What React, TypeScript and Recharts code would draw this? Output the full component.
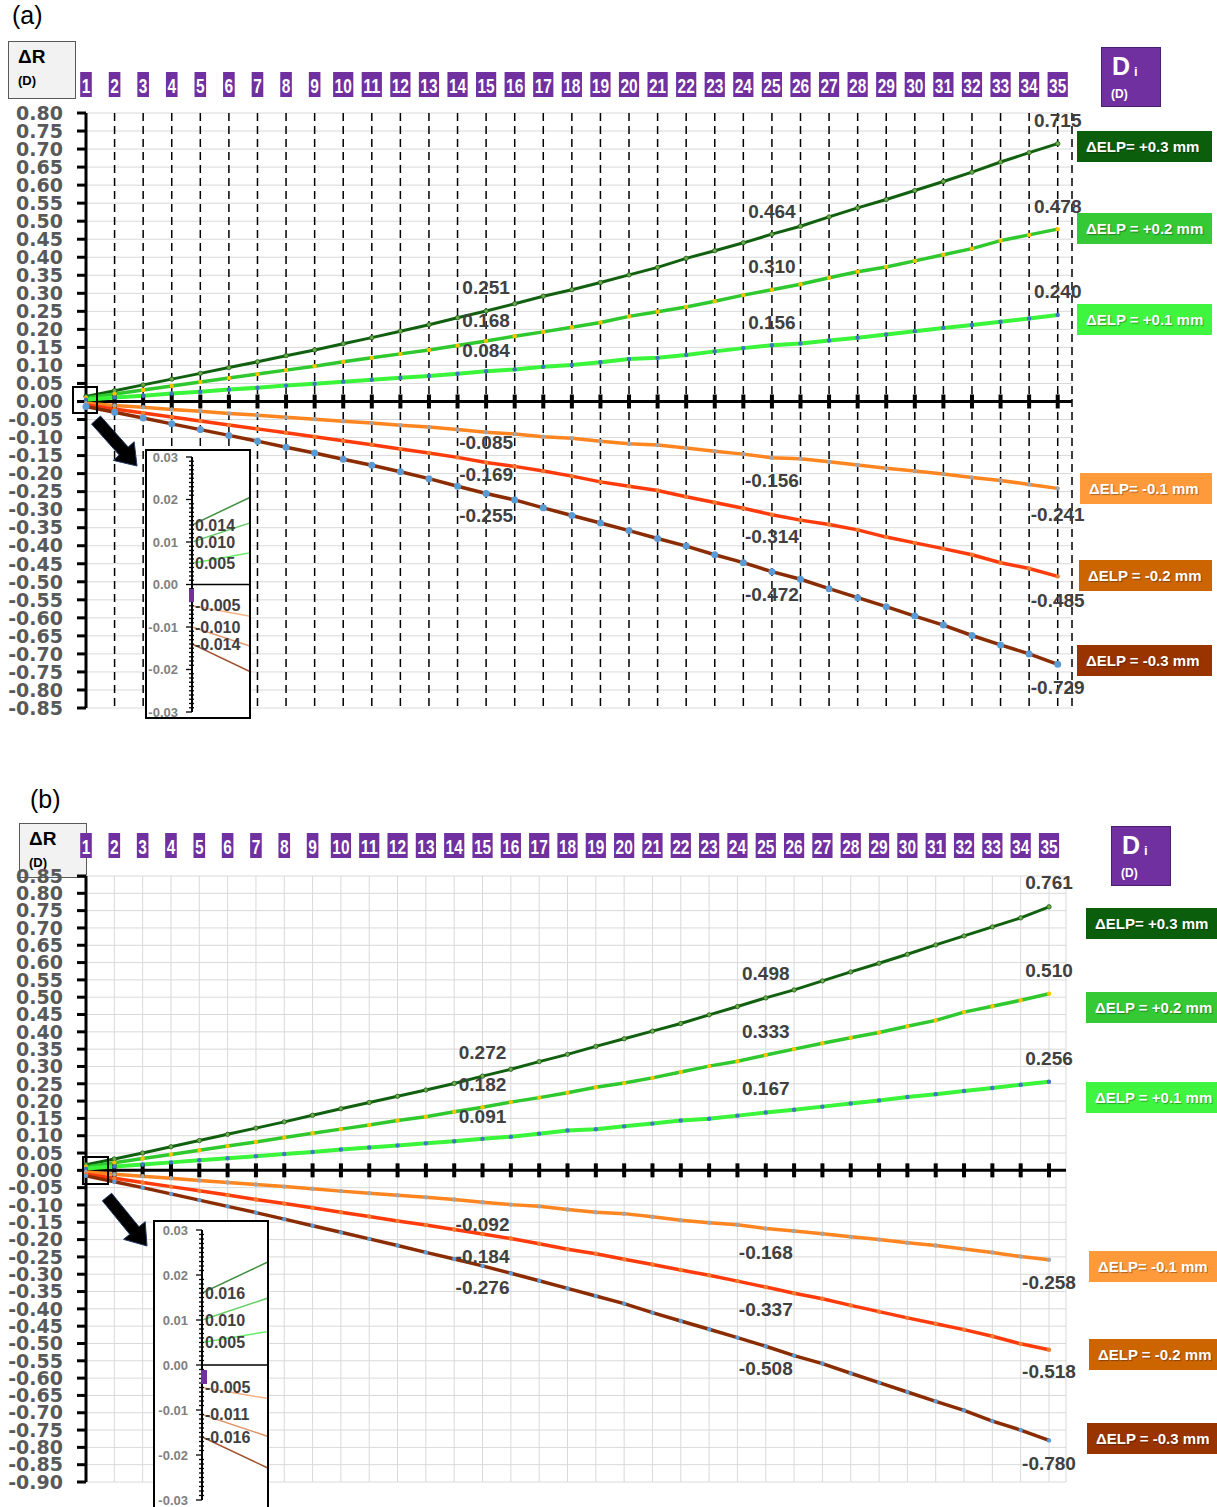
import React from "react";
import { LineChart, Line, XAxis, YAxis, CartesianGrid, ReferenceLine, LabelList } from "recharts";

// IOL power index shown in the purple boxes along the top
const diValues = [1, 2, 3, 4, 5, 6, 7, 8, 9, 10, 11, 12, 13, 14, 15, 16, 17, 18, 19, 20, 21, 22, 23, 24, 25, 26, 27, 28, 29, 30, 31, 32, 33, 34, 35];

// panel (a) ΔR values (D)
const plus03A = [0.014, 0.030, 0.046, 0.062, 0.078, 0.094, 0.110, 0.127, 0.143, 0.160, 0.177, 0.195, 0.213, 0.232, 0.251, 0.271, 0.292, 0.310, 0.330, 0.351, 0.372, 0.397, 0.418, 0.440, 0.464, 0.486, 0.512, 0.537, 0.560, 0.585, 0.610, 0.636, 0.664, 0.690, 0.715];
const plus02A = [0.010, 0.021, 0.032, 0.043, 0.054, 0.065, 0.076, 0.087, 0.098, 0.110, 0.121, 0.132, 0.143, 0.155, 0.168, 0.181, 0.193, 0.206, 0.219, 0.236, 0.249, 0.262, 0.278, 0.295, 0.310, 0.325, 0.343, 0.360, 0.373, 0.390, 0.407, 0.424, 0.446, 0.462, 0.478];
const plus01A = [0.005, 0.011, 0.016, 0.022, 0.027, 0.033, 0.038, 0.044, 0.049, 0.055, 0.060, 0.066, 0.071, 0.077, 0.084, 0.089, 0.096, 0.101, 0.109, 0.118, 0.121, 0.129, 0.139, 0.148, 0.156, 0.161, 0.169, 0.177, 0.186, 0.195, 0.204, 0.212, 0.221, 0.230, 0.240];
const minus01A = [-0.005, -0.011, -0.016, -0.022, -0.027, -0.033, -0.038, -0.044, -0.049, -0.055, -0.060, -0.066, -0.071, -0.078, -0.085, -0.090, -0.098, -0.102, -0.110, -0.117, -0.121, -0.129, -0.138, -0.146, -0.156, -0.159, -0.167, -0.176, -0.185, -0.193, -0.201, -0.211, -0.219, -0.230, -0.241];
const minus02A = [-0.010, -0.021, -0.032, -0.043, -0.054, -0.065, -0.076, -0.087, -0.098, -0.109, -0.120, -0.132, -0.143, -0.155, -0.169, -0.180, -0.193, -0.207, -0.223, -0.235, -0.247, -0.264, -0.280, -0.296, -0.314, -0.329, -0.341, -0.356, -0.376, -0.392, -0.408, -0.425, -0.447, -0.463, -0.485];
const minus03A = [-0.014, -0.030, -0.046, -0.062, -0.078, -0.094, -0.110, -0.127, -0.143, -0.160, -0.177, -0.195, -0.214, -0.235, -0.255, -0.273, -0.295, -0.316, -0.337, -0.358, -0.380, -0.401, -0.425, -0.447, -0.472, -0.493, -0.519, -0.544, -0.569, -0.595, -0.620, -0.649, -0.675, -0.700, -0.729];

// panel (b) ΔR values (D)
const plus03B = [0.016, 0.033, 0.050, 0.068, 0.086, 0.104, 0.122, 0.140, 0.159, 0.178, 0.196, 0.214, 0.232, 0.251, 0.272, 0.292, 0.314, 0.335, 0.358, 0.380, 0.402, 0.424, 0.449, 0.473, 0.498, 0.521, 0.547, 0.573, 0.598, 0.624, 0.651, 0.677, 0.703, 0.729, 0.761];
const plus02B = [0.010, 0.022, 0.034, 0.046, 0.058, 0.070, 0.082, 0.095, 0.107, 0.119, 0.131, 0.144, 0.155, 0.169, 0.182, 0.197, 0.210, 0.224, 0.240, 0.252, 0.267, 0.284, 0.301, 0.315, 0.333, 0.350, 0.367, 0.383, 0.398, 0.416, 0.433, 0.457, 0.474, 0.491, 0.510];
const plus01B = [0.005, 0.011, 0.017, 0.023, 0.029, 0.035, 0.041, 0.047, 0.053, 0.060, 0.066, 0.072, 0.078, 0.084, 0.091, 0.097, 0.106, 0.115, 0.119, 0.127, 0.135, 0.144, 0.149, 0.158, 0.167, 0.175, 0.184, 0.193, 0.202, 0.212, 0.220, 0.229, 0.238, 0.247, 0.256];
const minus01B = [-0.005, -0.011, -0.017, -0.023, -0.029, -0.035, -0.041, -0.047, -0.053, -0.060, -0.066, -0.072, -0.078, -0.084, -0.092, -0.099, -0.104, -0.113, -0.121, -0.125, -0.134, -0.144, -0.151, -0.157, -0.168, -0.175, -0.183, -0.192, -0.200, -0.209, -0.217, -0.227, -0.237, -0.249, -0.258];
const minus02B = [-0.011, -0.023, -0.035, -0.047, -0.059, -0.071, -0.084, -0.096, -0.108, -0.121, -0.133, -0.146, -0.158, -0.171, -0.184, -0.197, -0.212, -0.228, -0.241, -0.257, -0.272, -0.288, -0.303, -0.320, -0.337, -0.355, -0.371, -0.390, -0.408, -0.426, -0.443, -0.460, -0.479, -0.501, -0.518];
const minus03B = [-0.016, -0.033, -0.050, -0.068, -0.086, -0.104, -0.122, -0.141, -0.160, -0.179, -0.198, -0.217, -0.237, -0.256, -0.276, -0.297, -0.319, -0.341, -0.363, -0.385, -0.411, -0.435, -0.459, -0.483, -0.508, -0.535, -0.558, -0.586, -0.613, -0.640, -0.667, -0.693, -0.724, -0.750, -0.780];

const yTicksA = [0.8, 0.75, 0.7, 0.65, 0.6, 0.55, 0.5, 0.45, 0.4, 0.35, 0.3, 0.25, 0.2, 0.15, 0.1, 0.05, 0, -0.05, -0.1, -0.15, -0.2, -0.25, -0.3, -0.35, -0.4, -0.45, -0.5, -0.55, -0.6, -0.65, -0.7, -0.75, -0.8, -0.85];
const yTicksB = [0.85, 0.8, 0.75, 0.7, 0.65, 0.6, 0.55, 0.5, 0.45, 0.4, 0.35, 0.3, 0.25, 0.2, 0.15, 0.1, 0.05, 0, -0.05, -0.1, -0.15, -0.2, -0.25, -0.3, -0.35, -0.4, -0.45, -0.5, -0.55, -0.6, -0.65, -0.7, -0.75, -0.8, -0.85, -0.9];
const insetMajorTicks = [0.03, 0.02, 0.01, 0, -0.01, -0.02, -0.03];
const insetMinorTicks = Array.from({ length: 61 }, (_, i) => Math.round((0.03 - i * 0.001) * 1000) / 1000);

const legendTexts = ["ΔELP= +0.3 mm", "ΔELP = +0.2 mm", "ΔELP = +0.1 mm", "ΔELP= -0.1 mm", "ΔELP = -0.2 mm", "ΔELP = -0.3 mm"];
const labelIndexes = [14, 24, 34];

const SANS = '"Liberation Sans", Arial, sans-serif';
const WIDE = '"DejaVu Sans", sans-serif';
const PURPLE = "#7030a0";

const seriesStyle = [
  { key: "p3", color: "#11600f", width: 3, dotFill: "#70ad47", dotStroke: "#1b5e20", inset: "#3f8f3f", legend: "#0b5e0b" },
  { key: "p2", color: "#2fc82f", width: 3.5, dotFill: "#ffc000", dotStroke: "none", inset: "#66cc66", legend: "#35c935" },
  { key: "p1", color: "#3af53a", width: 4, dotFill: "#4472c4", dotStroke: "none", inset: "#66ee66", legend: "#40f540" },
  { key: "m1", color: "#ff8520", width: 3.5, dotFill: "#a5a5a5", dotStroke: "none", inset: "#f4b183", legend: "#ff9a3a" },
  { key: "m2", color: "#ff3b0c", width: 3.5, dotFill: "#ed7d31", dotStroke: "none", inset: "#e0956a", legend: "#cc6400" },
  { key: "m3", color: "#8a2c00", width: 3.5, dotFill: "#5b9bd5", dotStroke: "none", inset: "#a0522d", legend: "#993300" },
];

const rowsA = diValues.map((di, i) => ({ di, p3: plus03A[i], p2: plus02A[i], p1: plus01A[i], m1: minus01A[i], m2: minus02A[i], m3: minus03A[i] }));
const rowsB = diValues.map((di, i) => ({ di, p3: plus03B[i], p2: plus02B[i], p1: plus01B[i], m1: minus01B[i], m2: minus02B[i], m3: minus03B[i] }));
const seriesA: Record<string, number[]> = { p3: plus03A, p2: plus02A, p1: plus01A, m1: minus01A, m2: minus02A, m3: minus03A };
const seriesB: Record<string, number[]> = { p3: plus03B, p2: plus02B, p1: plus01B, m1: minus01B, m2: minus02B, m3: minus03B };

const offsetsA: Record<string, number[]> = { p3: [23, 23, 23], p2: [20, 23, 23], p1: [21, 23, 23], m1: [10, 23, 26], m2: [12, 22, 24], m3: [22, 23, 23] };
const offsetsB: Record<string, number[]> = { p3: [24, 24, 24], p2: [23, 24, 23], p1: [22, 24, 23], m1: [22, 24, 23], m2: [22, 22, 22], m3: [22, 22, 23] };

function DiTick(props: any) {
  const { x, payload, boxTop } = props;
  const label = String(payload.value);
  const tw = label.length * 8.6;
  const w = tw + 3;
  return (
    <g>
      <rect x={x - w / 2} y={boxTop} width={w} height={25} fill={PURPLE} />
      <text
        x={x}
        y={boxTop + 13.5}
        fill="#fff"
        fontSize={20}
        fontWeight="bold"
        fontFamily={SANS}
        textAnchor="middle"
        dominantBaseline="central"
        textLength={tw}
        lengthAdjust="spacingAndGlyphs"
      >
        {label}
      </text>
    </g>
  );
}

const valueLabel = (values: number[], offsets: number[]) => (props: any) => {
  const idx = props.index ?? values.indexOf(props.value);
  const k = labelIndexes.indexOf(idx);
  if (k < 0) return null;
  const x = props.x ?? props.viewBox?.x;
  const y = props.y ?? props.viewBox?.y;
  const sign = props.value >= 0 ? -1 : 1;
  return (
    <text x={x} y={y + sign * offsets[k]} fill="#404040" fontSize={19} fontWeight="bold" fontFamily={SANS} textAnchor="middle" dominantBaseline="central">
      {Number(props.value).toFixed(3)}
    </text>
  );
};

const insetLabel = (values: number[]) => (props: any) => {
  const idx = props.index ?? values.indexOf(props.value);
  if (idx !== 0) return null;
  const x = props.x ?? props.viewBox?.x;
  const y = props.y ?? props.viewBox?.y;
  return (
    <text x={x + 3} y={y} fill="#404040" fontSize={16} fontWeight="bold" fontFamily={SANS} textAnchor="start" dominantBaseline="central">
      {Number(props.value).toFixed(3)}
    </text>
  );
};

type PanelProps = {
  rows: any[];
  series: Record<string, number[]>;
  offsets: Record<string, number[]>;
  top: number;
  height: number;
  plotTop: number;
  plotBottom: number;
  plotRight: number;
  xMax: number;
  yTicks: number[];
  boxTop: number;
  dashed: boolean;
  bigLastDot: boolean;
};

function Panel(p: PanelProps) {
  return (
    <div style={{ position: "absolute", left: 0, top: p.top }}>
      <LineChart width={1217} height={p.height} data={p.rows} margin={{ top: p.plotTop - 30, left: 6, right: 1217 - p.plotRight, bottom: p.height - p.plotBottom }}>
        {p.dashed ? (
          <>
            <CartesianGrid vertical={false} stroke="#d9d9d9" strokeWidth={1} />
            <CartesianGrid horizontal={false} stroke="#000" strokeWidth={1.5} strokeDasharray="8 5" />
          </>
        ) : (
          <CartesianGrid stroke="#d9d9d9" strokeWidth={1} />
        )}
        <XAxis
          type="number"
          dataKey="di"
          orientation="top"
          height={30}
          domain={[1, p.xMax]}
          ticks={diValues}
          interval={0}
          axisLine={false}
          tickLine={false}
          tick={(t: any) => <DiTick {...t} boxTop={p.boxTop} />}
        />
        <YAxis
          type="number"
          width={80}
          domain={[p.yTicks[p.yTicks.length - 1], p.yTicks[0]]}
          ticks={p.yTicks}
          interval={0}
          tickFormatter={(v: number) => v.toFixed(2)}
          axisLine={{ stroke: "#000", strokeWidth: 3 }}
          tickLine={{ stroke: "#000", strokeWidth: 3 }}
          tickSize={9}
          tickMargin={14}
          tick={{ fill: "#595959", fontSize: 19, fontWeight: "bold", fontFamily: WIDE }}
        />
        <ReferenceLine y={0} stroke="#000" strokeWidth={3} />
        <Line
          dataKey={() => 0}
          stroke="none"
          isAnimationActive={false}
          dot={(d: any) => <rect key={`z${d.index}`} x={d.cx - 2} y={d.cy - 7} width={4} height={14} fill="#000" />}
        />
        {seriesStyle.map((s) => (
          <Line
            key={s.key}
            type="linear"
            dataKey={s.key}
            stroke={s.color}
            strokeWidth={s.width}
            isAnimationActive={false}
            dot={{ r: s.key === "m3" && p.bigLastDot ? 3.5 : 2.2, fill: s.dotFill, stroke: s.dotStroke, strokeWidth: 0.8 }}
          >
            <LabelList dataKey={s.key} content={valueLabel(p.series[s.key], p.offsets[s.key])} />
          </Line>
        ))}
      </LineChart>
    </div>
  );
}

type InsetProps = { rows: any[]; series: Record<string, number[]>; left: number; top: number; width: number; height: number; axisX: number; y03: number; yNeg03: number };

function Inset(p: InsetProps) {
  const innerW = p.width - 4;
  const innerH = p.height - 4;
  const yAxisW = 40;
  const plotTop = p.y03 - (p.top + 2);
  const plotBottom = p.yNeg03 - (p.top + 2);
  return (
    <div style={{ position: "absolute", left: p.left, top: p.top, width: p.width, height: p.height, border: "2px solid #000", boxSizing: "border-box", background: "#fff" }}>
      <LineChart width={innerW} height={innerH} data={p.rows} margin={{ top: plotTop, bottom: innerH - plotBottom, left: p.axisX - (p.left + 2) - yAxisW, right: 0 }}>
        <XAxis type="number" dataKey="di" domain={[1, 1.4]} allowDataOverflow hide />
        <YAxis
          type="number"
          width={yAxisW}
          domain={[-0.03, 0.03]}
          allowDataOverflow
          ticks={insetMinorTicks}
          interval={0}
          axisLine={{ stroke: "#000", strokeWidth: 2 }}
          tickLine={false}
          tickSize={0}
          tickMargin={0}
          tick={(t: any) => {
            const v = Number(t.payload.value);
            const major = insetMajorTicks.some((m) => Math.abs(m - v) < 1e-6);
            return (
              <g>
                <line x1={t.x - (major ? 6 : 3)} x2={t.x + (major ? 0 : 2)} y1={t.y} y2={t.y} stroke="#000" strokeWidth={1.3} />
                {major && (
                  <text x={t.x - 14} y={t.y} fill="#7f7f7f" fontSize={13} fontWeight="bold" fontFamily={SANS} textAnchor="end" dominantBaseline="central">
                    {v.toFixed(2)}
                  </text>
                )}
              </g>
            );
          }}
        />
        <ReferenceLine y={0} stroke="#000" strokeWidth={1.5} />
        {seriesStyle.map((s) => (
          <Line key={s.key} type="linear" dataKey={s.key} stroke={s.inset} strokeWidth={1.5} dot={false} isAnimationActive={false}>
            <LabelList dataKey={s.key} content={insetLabel(p.series[s.key])} />
          </Line>
        ))}
      </LineChart>
    </div>
  );
}

function arrowPoints(x1: number, y1: number, x2: number, y2: number) {
  const dx = x2 - x1;
  const dy = y2 - y1;
  const L = Math.hypot(dx, dy);
  const ux = dx / L;
  const uy = dy / L;
  const px = -uy;
  const py = ux;
  const shaft = 6;
  const head = 14;
  const headLen = 20;
  const bx = x2 - ux * headLen;
  const by = y2 - uy * headLen;
  const pts = [
    [x1 + px * shaft, y1 + py * shaft],
    [bx + px * shaft, by + py * shaft],
    [bx + px * head, by + py * head],
    [x2, y2],
    [bx - px * head, by - py * head],
    [bx - px * shaft, by - py * shaft],
    [x1 - px * shaft, y1 - py * shaft],
  ];
  return pts.map((q) => q.join(",")).join(" ");
}

function DeltaRBox({ left, top, width, height }: { left: number; top: number; width: number; height: number }) {
  return (
    <div style={{ position: "absolute", left, top, width, height, background: "#f2f2f2", border: "1.5px solid #595959", boxSizing: "border-box", fontFamily: SANS, fontWeight: "bold", color: "#000" }}>
      <div style={{ position: "absolute", left: 9, top: 4, fontSize: 19 }}>ΔR</div>
      <div style={{ position: "absolute", left: 9, top: 31, fontSize: 13 }}>(D)</div>
    </div>
  );
}

function DiBox({ left, top }: { left: number; top: number }) {
  return (
    <div style={{ position: "absolute", left, top, width: 60, height: 60, background: PURPLE, border: "1px solid #4b1f6f", boxSizing: "border-box", fontFamily: SANS, fontWeight: "bold", color: "#fff" }}>
      <div style={{ position: "absolute", left: 10, top: 4, fontSize: 25 }}>D</div>
      <div style={{ position: "absolute", left: 32, top: 16, fontSize: 13 }}>i</div>
      <div style={{ position: "absolute", left: 9, top: 39, fontSize: 12 }}>(D)</div>
    </div>
  );
}

const legendTopA = [131, 213, 304, 473, 560, 645];
const legendLeftA = [1077, 1077, 1077, 1080, 1079, 1077];
const legendTopB = [908, 992, 1082, 1251, 1339, 1423];
const legendLeftB = [1086, 1086, 1086, 1089, 1089, 1087];

function LegendBoxes({ tops, lefts, right }: { tops: number[]; lefts: number[]; right: number }) {
  return (
    <>
      {legendTexts.map((t, i) => (
        <div
          key={t}
          style={{
            position: "absolute",
            left: lefts[i],
            top: tops[i],
            width: right - lefts[i],
            height: 31,
            background: seriesStyle[i].legend,
            color: "#fff",
            fontFamily: SANS,
            fontWeight: "bold",
            fontSize: 15,
            lineHeight: "31px",
            paddingLeft: 9,
            boxSizing: "border-box",
            whiteSpace: "nowrap",
            overflow: "hidden",
            textShadow: "1px 1px 1px rgba(0,0,0,0.35)",
          }}
        >
          {t}
        </div>
      ))}
    </>
  );
}

export default function App() {
  return (
    <div style={{ position: "absolute", left: 0, top: 0, width: 1217, height: 1507, overflow: "hidden", background: "#fff" }}>
      <div style={{ position: "absolute", left: 12, top: 1, fontSize: 25, fontFamily: SANS, color: "#000" }}>(a)</div>
      <div style={{ position: "absolute", left: 30, top: 785, fontSize: 25, fontFamily: SANS, color: "#000" }}>(b)</div>
      <DeltaRBox left={8} top={41} width={68} height={58} />
      <DeltaRBox left={19} top={823} width={68} height={55} />

      <Panel rows={rowsA} series={seriesA} offsets={offsetsA} top={0} height={740} plotTop={113} plotBottom={708} plotRight={1072} xMax={35.5} yTicks={yTicksA} boxTop={72} dashed bigLastDot />
      <Panel rows={rowsB} series={seriesB} offsets={offsetsB} top={770} height={737} plotTop={106} plotBottom={712} plotRight={1066} xMax={35.6} yTicks={yTicksB} boxTop={63} dashed={false} bigLastDot={false} />

      <DiBox left={1101} top={47} />
      <DiBox left={1111} top={826} />
      <LegendBoxes tops={legendTopA} lefts={legendLeftA} right={1212} />
      <LegendBoxes tops={legendTopB} lefts={legendLeftB} right={1217} />

      <Inset rows={rowsA} series={seriesA} left={145} top={449} width={106} height={270} axisX={192} y03={457} yNeg03={712} />
      <Inset rows={rowsB} series={seriesB} left={153} top={1220} width={116} height={292} axisX={202} y03={1230} yNeg03={1500} />

      <svg width={1217} height={1507} style={{ position: "absolute", left: 0, top: 0, pointerEvents: "none" }}>
        <rect x={73} y={387} width={24} height={26} fill="none" stroke="#000" strokeWidth={2} />
        <rect x={83} y={1157} width={25} height={27} fill="none" stroke="#000" strokeWidth={2} />
        <polygon points={arrowPoints(96, 420, 137, 466)} fill="#000" stroke="#1f3864" strokeWidth={1} />
        <polygon points={arrowPoints(107, 1197, 147, 1246)} fill="#000" stroke="#1f3864" strokeWidth={1} />
        <rect x={189} y={589} width={5} height={13} fill={PURPLE} />
        <rect x={201} y={1370} width={6} height={14} fill={PURPLE} />
      </svg>
    </div>
  );
}
